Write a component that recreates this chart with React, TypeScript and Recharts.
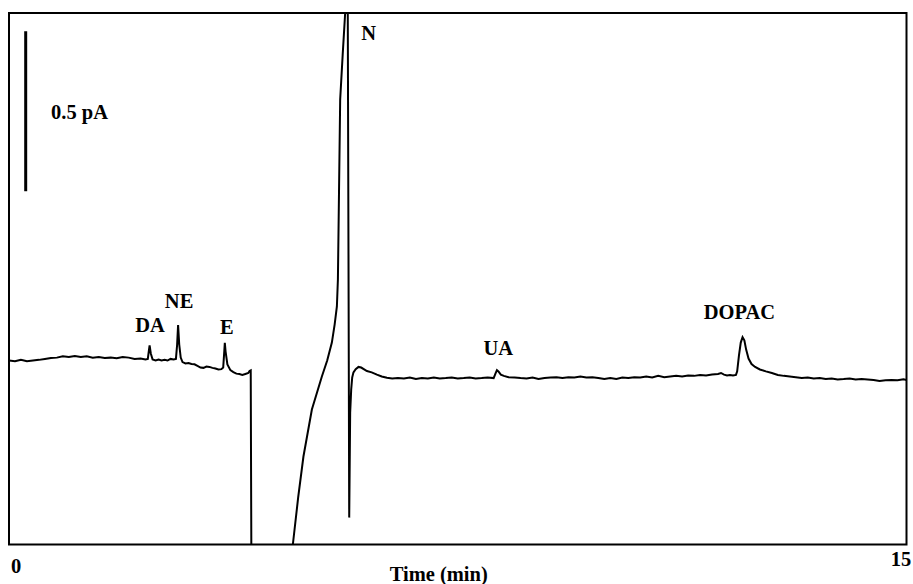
import React from 'react'
import {
    LineChart,
    Line,
    XAxis,
    YAxis,
    ReferenceArea,
    ReferenceLine,
    ReferenceDot
} from 'recharts'

// chromatogram trace: time (min) and detector current (pA)
const timeMin = [
    0.0, 0.1, 0.2, 0.3, 0.4, 0.5, 0.6, 0.7, 0.8, 0.9, 1.0, 1.1, 1.2, 1.3, 1.4, 1.5, 1.6, 1.7, 1.8, 1.9,
    2.0, 2.1, 2.2, 2.28, 2.32, 2.34, 2.35, 2.37, 2.4, 2.45, 2.5, 2.55, 2.6, 2.65, 2.7, 2.75, 2.79,
    2.81, 2.826, 2.845, 2.87, 2.9, 2.95, 3.0, 3.05, 3.1, 3.15, 3.2, 3.25, 3.3, 3.35, 3.4, 3.45, 3.5, 3.55, 3.58,
    3.6, 3.607, 3.62, 3.65, 3.7, 3.75, 3.8, 3.85, 3.9, 3.95, 4.0, 4.02, 4.04,
    4.058, 4.3, 4.55, 4.7,
    4.744, 4.833, 4.921, 5.062, 5.229, 5.318, 5.396, 5.443, 5.48, 5.497, 5.535, 5.577, 5.619, 5.632, 5.644, 5.656,
    5.662, 5.676, 5.686, 5.702, 5.719, 5.736, 5.757, 5.794, 5.841, 5.886, 5.982, 6.062, 6.149, 6.229, 6.316, 6.405,
    6.5, 6.6, 6.7, 6.8, 6.9, 7.0, 7.1, 7.2, 7.3, 7.4, 7.5, 7.6, 7.7, 7.8, 7.9, 8.0, 8.1,
    8.13, 8.155, 8.18, 8.22, 8.27, 8.35, 8.45, 8.55, 8.65, 8.75, 8.85, 8.95, 9.05, 9.15, 9.25, 9.35, 9.45, 9.55,
    9.65, 9.75, 9.85, 9.95, 10.05, 10.15, 10.25, 10.35, 10.45, 10.55, 10.65, 10.75, 10.85, 10.95, 11.05, 11.15,
    11.25, 11.35, 11.45, 11.55, 11.65, 11.75, 11.85, 11.9, 11.95, 12.0, 12.05, 12.1, 12.15,
    12.17, 12.2, 12.23, 12.26, 12.29, 12.32, 12.36, 12.41, 12.47, 12.55, 12.65, 12.75, 12.85, 12.95,
    13.05, 13.15, 13.25, 13.35, 13.45, 13.55, 13.65, 13.75, 13.85, 13.95, 14.05, 14.15, 14.25, 14.35,
    14.45, 14.55, 14.65, 14.75, 14.85, 14.95, 15.0
]

const currentPA = [
    0.575, 0.573, 0.577, 0.573, 0.575, 0.577, 0.58, 0.583, 0.584, 0.588, 0.586, 0.589, 0.586, 0.588, 0.584, 0.586, 0.583, 0.584, 0.582, 0.586,
    0.584, 0.58, 0.581, 0.578, 0.58, 0.609, 0.622, 0.597, 0.578, 0.575, 0.578, 0.575, 0.577, 0.575, 0.58, 0.578, 0.58,
    0.625, 0.686, 0.625, 0.584, 0.57, 0.566, 0.567, 0.564, 0.563, 0.558, 0.553, 0.552, 0.556, 0.555, 0.552, 0.55, 0.547, 0.548, 0.553,
    0.609, 0.63, 0.603, 0.563, 0.545, 0.539, 0.534, 0.533, 0.53, 0.533, 0.536, 0.542, 0.544,
    -0.45, -0.55, -0.35, -0.09,
    0.0, 0.147, 0.275, 0.422, 0.525, 0.575, 0.631, 0.688, 0.744, 0.828, 1.391, 1.531, 1.663, 1.86, 1.92, 1.8,
    1.663, 0.766, 0.084, 0.413, 0.484, 0.522, 0.538, 0.548, 0.555, 0.553, 0.542, 0.538, 0.531, 0.525, 0.521, 0.519,
    0.52, 0.519, 0.522, 0.517, 0.52, 0.519, 0.522, 0.519, 0.52, 0.522, 0.519, 0.52, 0.522, 0.519, 0.52, 0.522, 0.52,
    0.534, 0.545, 0.541, 0.531, 0.527, 0.523, 0.522, 0.52, 0.519, 0.522, 0.517, 0.52, 0.522, 0.523, 0.52, 0.523, 0.522, 0.525,
    0.522, 0.523, 0.52, 0.517, 0.52, 0.517, 0.522, 0.52, 0.523, 0.522, 0.525, 0.522, 0.527, 0.523, 0.525, 0.527,
    0.525, 0.528, 0.527, 0.53, 0.528, 0.531, 0.533, 0.536, 0.531, 0.528, 0.53, 0.528, 0.53,
    0.541, 0.591, 0.631, 0.648, 0.638, 0.609, 0.581, 0.564, 0.555, 0.547, 0.541, 0.536, 0.53, 0.527,
    0.525, 0.523, 0.52, 0.522, 0.519, 0.52, 0.517, 0.519, 0.516, 0.517, 0.519, 0.516, 0.517, 0.516,
    0.514, 0.511, 0.513, 0.514, 0.513, 0.516, 0.514
]

// peak annotations
const peakNames = ['DA', 'NE', 'E', 'N', 'UA', 'DOPAC']
const peakTimes = [2.358, 2.843, 3.64, 6.012, 8.177, 12.207]
const peakLevels = [0.686, 0.761, 0.681, 1.6, 0.616, 0.729]

const timeTicks = [0, 15]
const scaleBarTime = 0.279
const scaleBarRange = [1.104, 1.604]
const scaleBarText = '0.5 pA'

const data = timeMin.map((t, i) => ({ t, current: currentPA[i] }))

const FONT = {
    fill: '#000',
    fontSize: 20.5,
    fontWeight: 700,
    fontFamily: '"Liberation Serif", "Times New Roman", serif'
}

const TimeTick = ({ x, y, payload }: any) => {
    const first = payload.value === 0
    return (
        <text
            x={x + (first ? 7 : -4)}
            y={y}
            dy={first ? 20 : 13}
            textAnchor="middle"
            {...FONT}
        >
            {payload.value}
        </text>
    )
}

export default function App() {
    return (
        <div style={{ position: 'absolute', left: 0, top: 0, background: '#fff' }}>
            <LineChart
                width={913}
                height={584}
                data={data}
                margin={{ top: 13, right: 6.5, bottom: 0, left: 9 }}
            >
                <XAxis
                    dataKey="t"
                    type="number"
                    domain={[0, 15]}
                    ticks={timeTicks}
                    allowDataOverflow
                    axisLine={false}
                    tickLine={false}
                    height={39.5}
                    tick={<TimeTick />}
                    label={{ value: 'Time (min)', position: 'insideBottom', offset: 3, dx: -19, ...FONT }}
                />
                <YAxis type="number" domain={[0, 1.661]} allowDataOverflow hide />
                <ReferenceArea x1={0} x2={15} y1={0} y2={1.661} fill="none" stroke="#000" strokeWidth={2} />
                <ReferenceLine
                    segment={[
                        { x: scaleBarTime, y: scaleBarRange[0] },
                        { x: scaleBarTime, y: scaleBarRange[1] }
                    ]}
                    stroke="#000"
                    strokeWidth={3}
                />
                <ReferenceDot
                    x={1.179}
                    y={1.353}
                    r={0}
                    fill="none"
                    stroke="none"
                    label={{ value: scaleBarText, position: 'center', ...FONT }}
                />
                {peakNames.map((name, i) => (
                    <ReferenceDot
                        key={name}
                        x={peakTimes[i]}
                        y={peakLevels[i]}
                        r={0}
                        fill="none"
                        stroke="none"
                        label={{ value: name, position: 'center', ...FONT }}
                    />
                ))}
                <Line
                    type="linear"
                    dataKey="current"
                    stroke="#000"
                    strokeWidth={2}
                    dot={false}
                    activeDot={false}
                    isAnimationActive={false}
                />
            </LineChart>
        </div>
    )
}
